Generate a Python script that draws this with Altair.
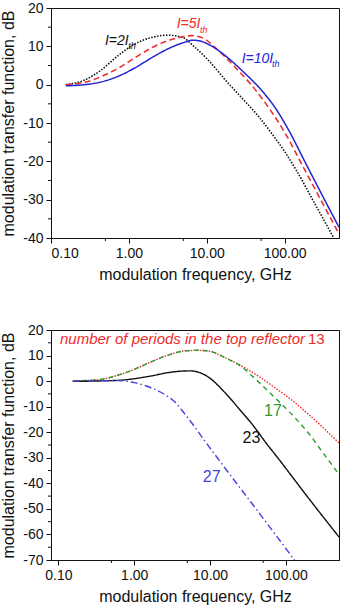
import altair as alt
import pandas as pd

FONT = "Liberation Sans"
RED = "#ee2a2a"
BLUE = "#2424d6"
GREEN = "#2f9a2f"
BLACK = "#111111"
BLUE2 = "#4444e0"

# ---- upper panel: pump current series ----
f_2ith = [0.155, 0.27, 0.44, 0.73, 1.19, 1.96, 3.1, 4.8, 7.0, 10.8, 17.7, 29, 47.7, 71, 100, 142, 250, 420, 500]
db_2ith = [0.0, 1.2, 3.8, 7.6, 10.6, 12.3, 12.9, 12.4, 9.8, 6.1, 1.0, -3.7, -8.6, -13.2, -17.4, -22.4, -31.4, -39.7, -42.5]

f_5ith = [0.155, 0.27, 0.44, 0.73, 1.19, 1.96, 3.2, 5.3, 6.3, 8.85, 14.5, 23.8, 39, 64, 100, 178, 300, 500]
db_5ith = [0.0, 0.6, 2.1, 4.3, 7.0, 9.6, 11.5, 12.6, 12.8, 12.2, 8.7, 4.3, -0.5, -6.3, -12.4, -21.9, -30.5, -38.9]

f_10ith = [0.155, 0.27, 0.44, 0.73, 1.19, 1.96, 3.22, 5.27, 6.6, 8.5, 10.8, 17.7, 29, 47.7, 75, 111, 191, 300, 500]
db_10ith = [-0.3, 0.0, 0.7, 2.2, 4.35, 7.0, 9.4, 11.1, 11.6, 11.3, 10.4, 7.4, 3.5, -0.9, -5.9, -11.6, -20.9, -28.6, -37.2]

# ---- lower panel: number of periods in the top reflector ----
f_p13 = [0.155, 0.365, 0.605, 1.0, 1.66, 2.76, 4.57, 7.0, 9.46, 15.7, 26, 43, 71.5, 119, 196, 326, 500]
db_p13 = [0.0, 0.7, 2.3, 4.6, 7.5, 10.1, 11.8, 12.05, 11.8, 9.2, 5.9, 2.0, -2.6, -7.4, -12.9, -18.9, -24.2]

f_p17 = [0.155, 0.365, 0.605, 1.0, 1.66, 2.76, 4.57, 7.0, 9.46, 15.7, 26, 43, 71.5, 119, 196, 300, 500]
db_p17 = [0.0, 0.7, 2.3, 4.6, 7.5, 10.1, 11.8, 12.05, 11.8, 9.2, 5.6, -0.2, -6.5, -13.0, -20.2, -27.6, -36.5]

f_p23 = [0.155, 0.605, 1.66, 2.76, 4.2, 5.5, 7.0, 9.46, 15.7, 26, 35, 58, 71.5, 196, 500]
db_p23 = [-0.1, 0.3, 2.0, 3.3, 3.9, 4.0, 3.5, 1.6, -4.5, -12.0, -16.5, -25.2, -28.6, -45.6, -61.0]

f_p27 = [0.155, 0.605, 1.0, 1.66, 2.76, 3.44, 4.57, 5.42, 6.86, 8.5, 12.6, 15.7, 43, 119, 135]
db_p27 = [0.0, 0.2, -0.6, -2.6, -6.0, -8.2, -12.6, -15.4, -19.5, -23.4, -30.2, -34.0, -51.1, -68.6, -70.8]

# ---- axis ticks ----
x_major = [0.1, 1, 10, 100]
x_minor = [0.5, 5, 50]
top_y_major = [-40, -30, -20, -10, 0, 10, 20]
top_y_minor = [-35, -25, -15, -5, 5, 15]
bot_y_major = [-70, -60, -50, -40, -30, -20, -10, 0, 10, 20]
bot_y_minor = [-65, -55, -45, -35, -25, -15, -5, 5, 15]

W, H = 288, 230


def series_frame(name, freqs, dbs):
    return pd.DataFrame({"series": name, "f": freqs, "db": dbs})


def x_enc(domain):
    return alt.X(
        "f:Q",
        scale=alt.Scale(type="log", domain=domain, nice=False),
        axis=alt.Axis(
            values=x_major, format=".2f", title="modulation frequency, GHz",
            tickSize=5, labelPadding=3, titlePadding=6,
        ),
    )


def y_enc(domain, values):
    return alt.Y(
        "db:Q",
        scale=alt.Scale(domain=domain, nice=False, zero=False),
        axis=alt.Axis(
            values=values, labelExpr="'' + datum.value",
            title="modulation transfer function, dB",
            tickSize=5, labelPadding=3, titlePadding=6,
        ),
    )


def panel(lines, names, colors, dashes, widths, xdom, ydom, ymaj, ymin, texts):
    X = x_enc(xdom)
    Y = y_enc(ydom, ymaj)
    curves = alt.Chart(lines).mark_line(clip=True, interpolate="monotone").encode(
        x=X, y=Y,
        color=alt.Color("series:N", scale=alt.Scale(domain=names, range=colors), legend=None),
        strokeDash=alt.StrokeDash("series:N", scale=alt.Scale(domain=names, range=dashes), legend=None),
        strokeWidth=alt.StrokeWidth("series:N", scale=alt.Scale(domain=names, range=widths), legend=None),
        detail="series:N",
    )
    xticks = alt.Chart(pd.DataFrame({"f": x_minor})).mark_rule(color=BLACK, strokeWidth=1).encode(
        x=X, y=alt.value(H), y2=alt.value(H + 3)
    )
    yticks = alt.Chart(pd.DataFrame({"db": ymin})).mark_rule(color=BLACK, strokeWidth=1).encode(
        y=Y, x=alt.value(-3), x2=alt.value(0)
    )
    layers = [curves, xticks, yticks]
    for df, props in texts:
        layers.append(
            alt.Chart(df).mark_text(font=FONT, **props).encode(
                x=X, y=Y, text="label:N",
                color=alt.Color("tc:N", scale=None),
            )
        )
    return alt.layer(*layers).properties(width=W, height=H)


# upper panel
top_lines = pd.concat([
    series_frame("2", f_2ith, db_2ith),
    series_frame("5", f_5ith, db_5ith),
    series_frame("10", f_10ith, db_10ith),
])
top_main = pd.DataFrame({
    "label": ["I=2I", "I=5I", "I=10I"],
    "f": [0.493, 4.11, 28.1],
    "db": [10.4, 14.8, 5.65],
    "tc": [BLACK, RED, BLUE],
})
top_sub = pd.DataFrame({
    "label": ["th", "th", "th"],
    "f": [0.98, 8.2, 69.0],
    "db": [9.3, 13.6, 4.5],
    "tc": [BLACK, RED, BLUE],
})
top = panel(
    top_lines, ["2", "5", "10"], [BLACK, RED, BLUE],
    [[1.5, 1.5], [6, 3.5], [1, 0]], [1.6, 1.5, 1.4],
    [0.1, 500], [-40, 20], top_y_major, top_y_minor,
    [
        (top_main, dict(fontSize=14, fontStyle="italic", align="left", baseline="alphabetic")),
        (top_sub, dict(fontSize=9, fontStyle="italic", align="left", baseline="alphabetic")),
    ],
)

# lower panel
bot_lines = pd.concat([
    series_frame("13", f_p13, db_p13),
    series_frame("17", f_p17, db_p17),
    series_frame("23", f_p23, db_p23),
    series_frame("27", f_p27, db_p27),
])
bot_heading = pd.DataFrame({
    "label": ["number of periods in the top reflector"],
    "f": [0.105], "db": [14.5], "tc": [RED],
})
bot_heading_n = pd.DataFrame({"label": ["13"], "f": [195.0], "db": [14.5], "tc": [RED]})
bot_numbers = pd.DataFrame({
    "label": ["17", "23", "27"],
    "f": [67.3, 35.0, 10.5],
    "db": [-11.7, -22.4, -37.5],
    "tc": [GREEN, BLACK, BLUE2],
})
bottom = panel(
    bot_lines, ["13", "17", "23", "27"], [RED, GREEN, BLACK, BLUE2],
    [[1.5, 1.5], [5, 4], [1, 0], [7, 3, 1.5, 3]], [1.4, 1.4, 1.3, 1.3],
    [0.08, 500], [-70, 20], bot_y_major, bot_y_minor,
    [
        (bot_heading, dict(fontSize=15, fontStyle="italic", align="left", baseline="alphabetic")),
        (bot_heading_n, dict(fontSize=15, align="left", baseline="alphabetic")),
        (bot_numbers, dict(fontSize=16, align="center", baseline="middle")),
    ],
)

chart = (
    alt.vconcat(top, bottom, spacing=92, bounds="flush")
    .resolve_scale(color="independent", strokeDash="independent", strokeWidth="independent")
    .properties(padding={"left": 0, "top": 0, "right": 0, "bottom": 0}, background="white")
    .configure_view(stroke=BLACK, strokeWidth=1)
    .configure_axis(
        grid=False, domainColor=BLACK, tickColor=BLACK, labelColor=BLACK, titleColor=BLACK,
        labelFont=FONT, titleFont=FONT, labelFontSize=14, titleFontSize=16,
        titleFontWeight="normal", domainWidth=1, tickWidth=1,
    )
)

chart.save("out.html", embed_options={"renderer": "svg", "actions": False})
